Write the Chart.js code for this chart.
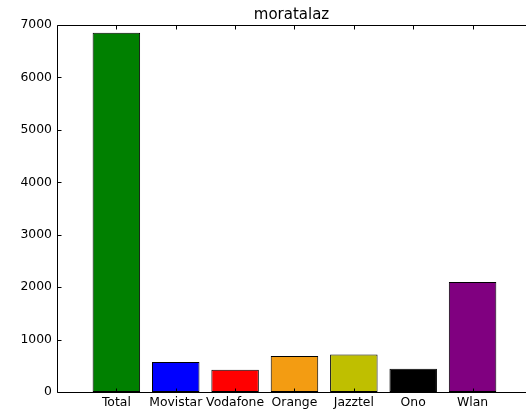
<!DOCTYPE html>
<html>
<head>
<meta charset="utf-8">
<script src="https://cdn.jsdelivr.net/npm/chart.js@4/dist/chart.umd.min.js"></script>
<style>
  body { margin: 0; overflow: hidden; background: #fff; }
</style>
</head>
<body>
<canvas id="grafico" width="526" height="415"></canvas>
<script>
const titulo = 'moratalaz';
const operadoras = ['Total', 'Movistar', 'Vodafone', 'Orange', 'Jazztel', 'Ono', 'Wlan'];
const valores = [6850, 570, 425, 685, 715, 445, 2100];
const cores = ['#008000', '#0000ff', '#ff0000', '#f39c12', '#bfbf00', '#000000', '#800080'];
const ticksY = [0, 1000, 2000, 3000, 4000, 5000, 6000, 7000];

// matplotlib style: spines and inward ticks (right spine falls outside the picture)
const molduraPlugin = {
  id: 'moldura',
  afterDatasetsDraw(chart) {
    const {ctx, chartArea: a, scales} = chart;
    const esq = Math.round(a.left) + 0.5;
    const topo = Math.round(a.top) + 0.5;
    const base = Math.round(a.bottom) + 0.5;
    ctx.save();
    ctx.strokeStyle = '#000';
    ctx.lineWidth = 1;
    ctx.beginPath();
    operadoras.forEach((nome, i) => {
      const x = Math.round(scales.x.getPixelForValue(i)) + 0.5;
      ctx.moveTo(x, base); ctx.lineTo(x, base - 4);
      ctx.moveTo(x, topo); ctx.lineTo(x, topo + 4);
    });
    ticksY.forEach(v => {
      const y = Math.round(scales.y.getPixelForValue(v)) + 0.5;
      ctx.moveTo(esq, y); ctx.lineTo(esq + 4, y);
    });
    ctx.moveTo(a.right + 1, topo); ctx.lineTo(esq, topo);
    ctx.lineTo(esq, base); ctx.lineTo(a.right + 1, base);
    ctx.stroke();
    ctx.restore();
  }
};

const ctxGrafico = document.getElementById('grafico');
new Chart(ctxGrafico, {
  type: 'bar',
  data: {
    datasets: [{
      data: valores.map((v, i) => ({x: i, y: v})),
      backgroundColor: cores,
      borderColor: '#000',
      borderWidth: 1,
      borderSkipped: false,
      barPercentage: 0.8,
      categoryPercentage: 1.0
    }]
  },
  options: {
    responsive: false,
    animation: false,
    layout: {padding: 0},
    plugins: {
      legend: {display: false},
      tooltip: {enabled: false},
      title: {
        display: true,
        fullSize: false,
        text: titulo,
        color: '#000',
        font: {family: 'DejaVu Sans', size: 15, weight: 'normal'},
        padding: {top: 6, bottom: 1}
      }
    },
    scales: {
      x: {
        type: 'linear',
        offset: false,
        min: -1,
        max: 6.9,
        grid: {display: false, drawTicks: false, offset: false},
        border: {display: false},
        afterBuildTicks: scale => {
          scale.ticks = operadoras.map((n, i) => ({value: i}));
        },
        afterFit: scale => { scale.height = 23; },
        ticks: {
          autoSkip: false,
          maxRotation: 0,
          padding: 3,
          color: '#000',
          font: {family: 'DejaVu Sans', size: 12.4},
          callback: v => operadoras[v]
        }
      },
      y: {
        min: 0,
        max: 7000,
        grid: {display: false, drawTicks: false},
        border: {display: false},
        afterBuildTicks: scale => {
          scale.ticks = ticksY.map(v => ({value: v}));
        },
        afterFit: scale => { scale.width = 57; },
        ticks: {
          padding: 5,
          color: '#000',
          font: {family: 'DejaVu Sans', size: 12.4},
          callback: v => String(v)
        }
      }
    }
  },
  plugins: [molduraPlugin]
});
</script>
</body>
</html>
